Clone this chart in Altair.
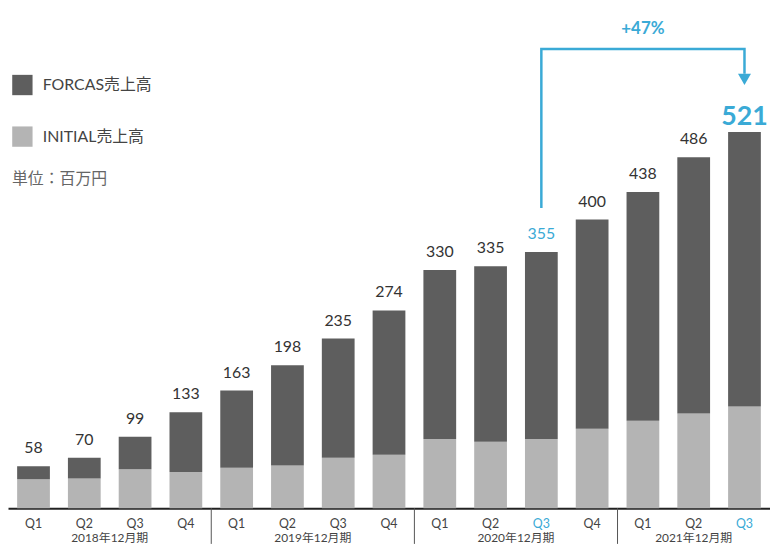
import altair as alt
import pandas as pd

FONT = "Lato, 'Noto Sans CJK JP', sans-serif"
BLUE = "#3aaad6"
DARK = "#5e5e5e"
LIGHT = "#b4b4b4"

quarters = ["2018 Q1", "2018 Q2", "2018 Q3", "2018 Q4",
            "2019 Q1", "2019 Q2", "2019 Q3", "2019 Q4",
            "2020 Q1", "2020 Q2", "2020 Q3", "2020 Q4",
            "2021 Q1", "2021 Q2", "2021 Q3"]
totals = [58, 70, 99, 133, 163, 198, 235, 274, 330, 335, 355, 400, 438, 486, 521]
initial = [40, 41, 54, 50, 56, 59, 70, 74, 96, 92, 96, 110, 121, 131, 141]
series = ["FORCAS売上高", "INITIAL売上高"]
year_labels = ["2018年12月期", "2019年12月期", "2020年12月期"]
year_anchor = ["2018 Q2", "2019 Q2", "2020 Q2"]
last_year_label = ["2021年12月期"]
last_year_anchor = ["2021 Q2"]
separators = ["2018 Q4", "2019 Q4", "2020 Q4"]
unit_label = ["単位：百万円"]
arrow_q = ["2020 Q3", "2020 Q3", "2021 Q3", "2021 Q3"]
arrow_y = [416, 636, 636, 602]
arrow_head_q = ["2021 Q3"]
arrow_head_y = [594]
growth_label = ["+47%"]
growth_q = ["2021 Q1"]
growth_y = [664]
highlight_q = "2020 Q3"
final_q = "2021 Q3"

W, H = 768, 502
P_IN, P_OUT = 0.355, 0.18
HALF_STEP = W / (15 - P_IN + 2 * P_OUT) / 2

rows = []
for q, t, i in zip(quarters, totals, initial):
    rows.append({"q": q, "series": series[1], "value": i, "ord": 0})
    rows.append({"q": q, "series": series[0], "value": t - i, "ord": 1})
bars_df = pd.DataFrame(rows)
tot_df = pd.DataFrame({"q": quarters, "total": totals})

X = alt.X(
    "q:N", sort=quarters,
    scale=alt.Scale(paddingInner=P_IN, paddingOuter=P_OUT),
    axis=alt.Axis(
        title=None, ticks=False, labelAngle=0,
        labelExpr="split(datum.value, ' ')[1]",
        labelColor={"condition": {"test": "datum.value == '2020 Q3' || datum.value == '2021 Q3'",
                                  "value": BLUE}, "value": "#444"},
        labelFontSize=12.5, labelPadding=9, domainColor="#222", domainWidth=2,
        labelFont=FONT, grid=False,
    ),
)
YS = alt.Scale(domain=[0, 690])

bars = alt.Chart(bars_df).mark_bar().encode(
    x=X,
    y=alt.Y("value:Q", stack="zero", scale=YS, axis=None),
    color=alt.Color(
        "series:N",
        scale=alt.Scale(domain=series, range=[DARK, LIGHT]),
        legend=alt.Legend(
            orient="none", legendX=4, legendY=65, title=None,
            symbolType="square", symbolSize=420, symbolStrokeWidth=0,
            symbolOpacity=1, labelFontSize=16, labelColor="#444",
            labelFont=FONT, rowPadding=31, labelOffset=10,
        ),
    ),
    order=alt.Order("ord:Q"),
)

labels = alt.Chart(tot_df).transform_filter(
    f"datum.q != '{final_q}'"
).mark_text(baseline="alphabetic", dy=-13, fontSize=16).encode(
    x=X,
    y=alt.Y("total:Q", scale=YS, axis=None),
    text="total:Q",
    color=alt.condition(f"datum.q == '{highlight_q}'", alt.value(BLUE), alt.value("#333")),
)

big = alt.Chart(tot_df).transform_filter(
    f"datum.q == '{final_q}'"
).mark_text(baseline="alphabetic", dy=-7, fontSize=27, fontWeight="bold", color=BLUE).encode(
    x=X,
    y=alt.Y("total:Q", scale=YS, axis=None),
    text="total:Q",
)

arrow = alt.Chart(pd.DataFrame({"q": arrow_q, "y": arrow_y, "idx": range(len(arrow_q))})).mark_line(
    color=BLUE, strokeWidth=2.5
).encode(
    x=X, y=alt.Y("y:Q", scale=YS, axis=None), order="idx:Q",
)

head = alt.Chart(pd.DataFrame({"q": arrow_head_q, "y": arrow_head_y})).mark_point(
    shape="triangle-down", filled=True, size=170, color=BLUE, opacity=1
).encode(x=X, y=alt.Y("y:Q", scale=YS, axis=None))

growth = alt.Chart(pd.DataFrame({"q": growth_q, "y": growth_y, "t": growth_label})).mark_text(
    fontSize=17, fontWeight="bold", color=BLUE, baseline="middle"
).encode(x=X, y=alt.Y("y:Q", scale=YS, axis=None), text="t:N")

years = alt.Chart(pd.DataFrame({"q": year_anchor, "t": year_labels})).mark_text(
    fontSize=12, color="#444", baseline="middle", dx=HALF_STEP
).encode(x=X, y=alt.value(532), text="t:N")

years_last = alt.Chart(pd.DataFrame({"q": last_year_anchor, "t": last_year_label})).mark_text(
    fontSize=12, color="#444", baseline="middle"
).encode(x=X, y=alt.value(532), text="t:N")

seps = alt.Chart(pd.DataFrame({"q": separators})).mark_rule(
    xOffset=HALF_STEP, color="#555", strokeWidth=1
).encode(x=X, y=alt.value(H), y2=alt.value(H + 36))

unit = alt.Chart(pd.DataFrame({"t": unit_label})).mark_text(
    align="left", baseline="middle", fontSize=16, color="#666"
).encode(x=alt.value(4), y=alt.value(170), text="t:N")

chart = alt.layer(
    bars, labels, big, arrow, head, growth, years, years_last, seps, unit
).properties(
    width=W, height=H,
    autosize=alt.AutoSizeParams(type="none"),
    padding={"left": 0, "top": 0, "right": 0, "bottom": 37},
).configure_view(stroke=None).configure_text(font=FONT)

chart.save("out.html", embed_options={"renderer": "svg", "actions": False})
